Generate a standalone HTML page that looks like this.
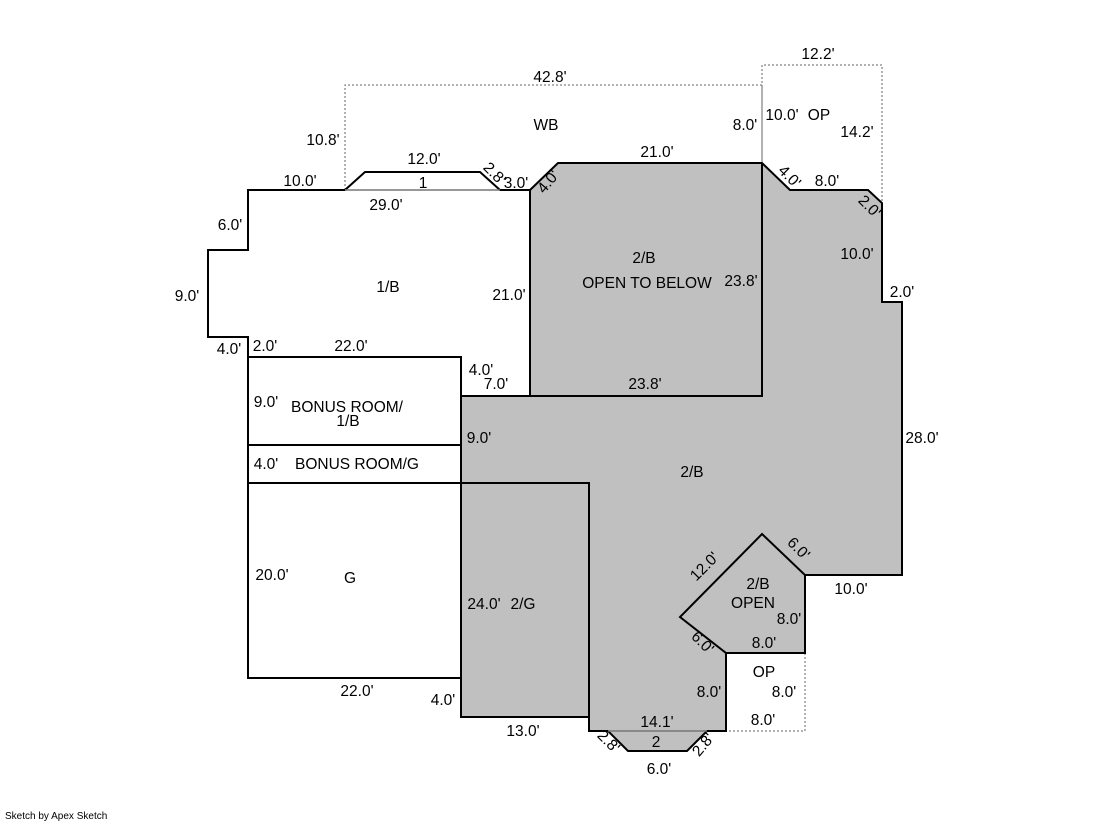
<!DOCTYPE html>
<html><head><meta charset="utf-8"><style>
html,body{margin:0;padding:0;background:#fff;}
svg{display:block;}
text{font-family:"Liberation Sans",Arial,sans-serif;font-size:15.5px;fill:#000;}
.s{font-size:10px;}
</style></head><body>
<svg width="1119" height="821" viewBox="0 0 1119 821" xmlns="http://www.w3.org/2000/svg">
<g fill="none" stroke="#666" stroke-width="1" stroke-dasharray="2,2">
<polyline points="345,190 345,85 762,85 762,163"/>
<polyline points="762,163 762,65 882,65 882,203"/>
<polyline points="805,653 805,731 726,731"/>
</g>
<polygon points="530,190 558,163 762,163 790,190 868,190 882,203 882,302 902,302 902,575 805,575 805,653 726,653 726,731 707,731 687,751 628,751 608,731 589,731 589,717 461,717 461,396 530,396" fill="#c0c0c0" stroke="none"/>
<g fill="none" stroke="#000" stroke-width="2">
<polyline points="530,190 500,190 480,172 365,172 345,190 248,190 248,250 208,250 208,337 248,337 248,678 461,678"/>
<polyline points="248,357 461,357 461,396"/>
<line x1="248" y1="445" x2="461" y2="445"/>
<line x1="248" y1="483" x2="461" y2="483"/>
<polygon points="530,190 558,163 762,163 790,190 868,190 882,203 882,302 902,302 902,575 805,575 805,653 726,653 726,731 707,731 687,751 628,751 608,731 589,731 589,717 461,717 461,396 530,396"/>
<polyline points="530,396 762,396 762,163"/>
<polyline points="461,483 589,483 589,731"/>
<polygon points="762,534 805,575 805,653 726,653 680,617"/>
</g>
<g stroke="#777" stroke-width="1.5">
<line x1="345" y1="190" x2="500" y2="190"/>
<line x1="608" y1="731" x2="707" y2="731"/>
</g>
<g text-anchor="middle">
<text x="550" y="82">42.8'</text>
<text x="818" y="59">12.2'</text>
<text x="546" y="130">WB</text>
<text x="323" y="145">10.8'</text>
<text x="745" y="130">8.0'</text>
<text x="782" y="120">10.0'</text>
<text x="819" y="120">OP</text>
<text x="857" y="137">14.2'</text>
<text x="424" y="164">12.0'</text>
<text x="657" y="157">21.0'</text>
<text x="300" y="186">10.0'</text>
<text x="423" y="188">1</text>
<text x="516" y="188">3.0'</text>
<text x="827" y="186">8.0'</text>
<text x="386" y="210">29.0'</text>
<text x="230" y="230">6.0'</text>
<text x="857" y="259">10.0'</text>
<text x="644" y="263">2/B</text>
<text x="647" y="288">OPEN TO BELOW</text>
<text x="741" y="286">23.8'</text>
<text x="388" y="292">1/B</text>
<text x="509" y="300">21.0'</text>
<text x="187" y="301">9.0'</text>
<text x="902" y="297">2.0'</text>
<text x="229" y="354">4.0'</text>
<text x="265" y="351">2.0'</text>
<text x="351" y="351">22.0'</text>
<text x="481" y="375">4.0'</text>
<text x="496" y="389">7.0'</text>
<text x="645" y="389">23.8'</text>
<text x="266" y="407">9.0'</text>
<text x="347" y="412">BONUS ROOM/</text>
<text x="348" y="426">1/B</text>
<text x="479" y="443">9.0'</text>
<text x="922" y="443">28.0'</text>
<text x="266" y="469">4.0'</text>
<text x="357" y="469">BONUS ROOM/G</text>
<text x="692" y="477">2/B</text>
<text x="272" y="580">20.0'</text>
<text x="350" y="583">G</text>
<text x="758" y="589">2/B</text>
<text x="753" y="608">OPEN</text>
<text x="851" y="594">10.0'</text>
<text x="484" y="609">24.0'</text>
<text x="523" y="609">2/G</text>
<text x="789" y="624">8.0'</text>
<text x="764" y="648">8.0'</text>
<text x="764" y="677">OP</text>
<text x="709" y="697">8.0'</text>
<text x="784" y="697">8.0'</text>
<text x="357" y="696">22.0'</text>
<text x="443" y="705">4.0'</text>
<text x="763" y="725">8.0'</text>
<text x="657" y="727">14.1'</text>
<text x="523" y="736">13.0'</text>
<text x="656" y="747">2</text>
<text x="659" y="774">6.0'</text>
<text transform="translate(491,177) rotate(45)">2.8'</text>
<text transform="translate(552,185) rotate(-50)">4.0'</text>
<text transform="translate(786,180) rotate(45)">4.0'</text>
<text transform="translate(866,210) rotate(45)">2.0'</text>
<text transform="translate(708,570) rotate(-45)">12.0'</text>
<text transform="translate(795,552) rotate(45)">6.0'</text>
<text transform="translate(699,646) rotate(45)">6.0'</text>
<text transform="translate(605,745) rotate(45)">2.8'</text>
<text transform="translate(707,748) rotate(-50)">2.8'</text>
</g>
<text class="s" x="5" y="819">Sketch by Apex Sketch</text>
</svg>
</body></html>
